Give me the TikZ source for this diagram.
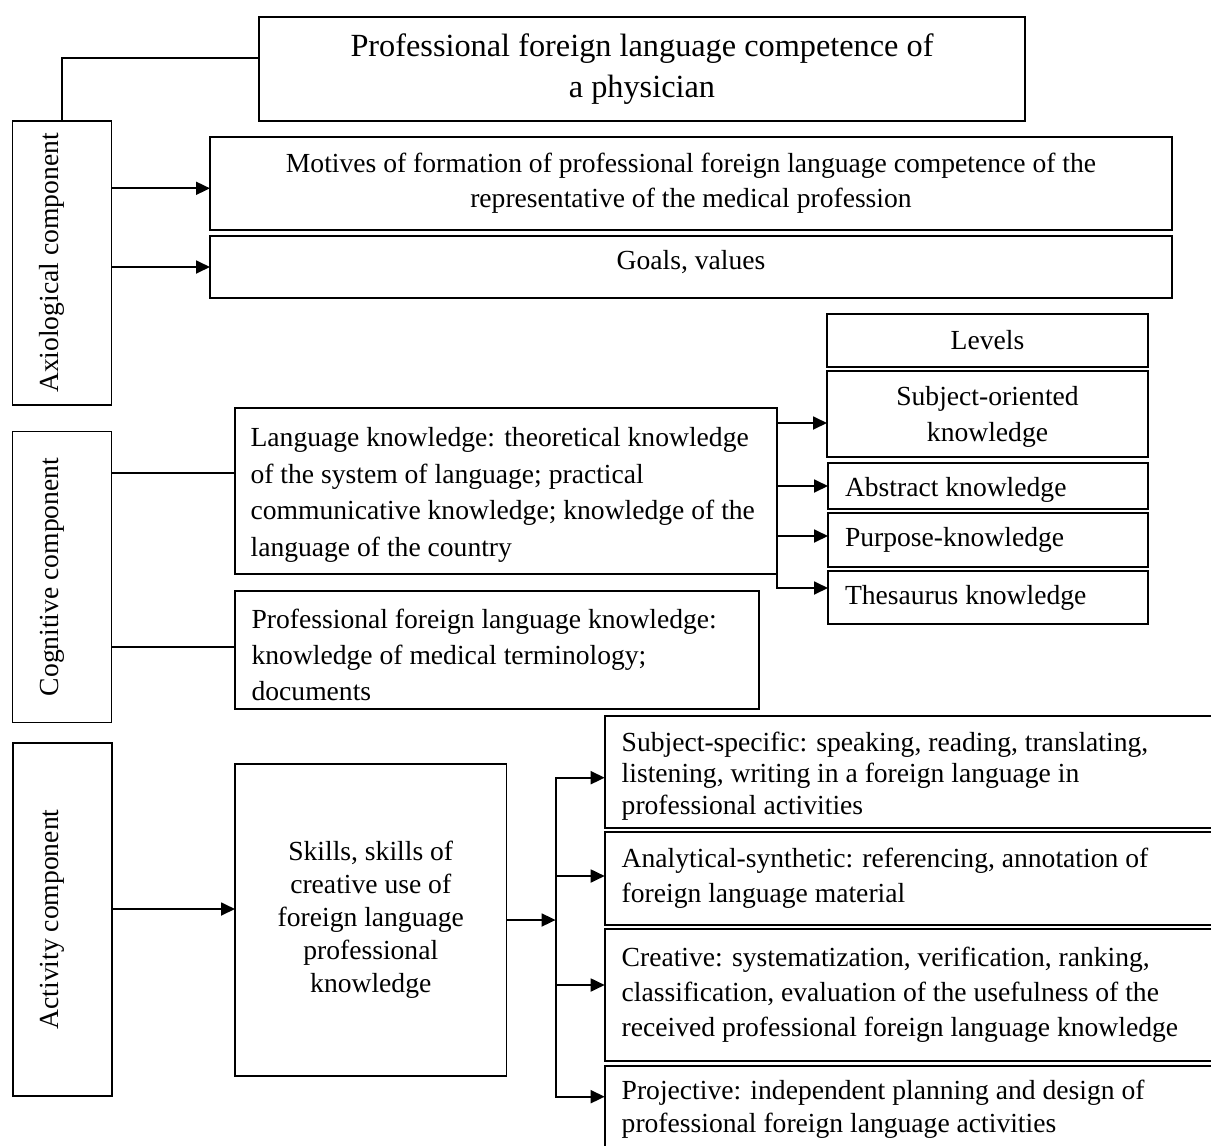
\documentclass[tikz,border=0pt]{standalone}
\usepackage{fontspec}
\setmainfont{Liberation Serif}
\usepackage{graphicx}
\usetikzlibrary{arrows.meta}
\newcommand\bodyfs[1]{\fontsize{27.6pt}{#1pt}\selectfont}
\newcommand\vstrut{\rule[-27pt]{0pt}{46pt}}
\newcommand\topst[1]{\rule{0pt}{#1pt}}
\begin{document}
\begin{tikzpicture}[x=1pt,y=-1pt,
  every node/.style={inner sep=0pt, outer sep=0pt},
  box/.style={draw, line width=1.8pt, rectangle},
  cbox/.style={box, align=center},
  lbox/.style={box, align=flush left, inner xsep=17pt, text width=#1},
  ln/.style={line width=1.8pt, line cap=rect},
  arr/.style={line width=1.8pt, -{Triangle[length=14pt,width=13pt]}}
]
\useasboundingbox (0,0) rectangle (1211,1146);
\clip (0,0) rectangle (1211,1146);

% title
\node[cbox, minimum width=766pt, minimum height=104pt, font=\fontsize{32.3pt}{41pt}\selectfont] (title) at (642,69)
  {Professional foreign language competence of\\ a physician};

% left component boxes
\node[box, minimum width=99pt, minimum height=284pt, font=\bodyfs{33}] (axio) at (62,263)
  {\rotatebox{90}{\vstrut Axiological component}};
\node[box, minimum width=99pt, minimum height=291pt, font=\bodyfs{33}] (cog) at (62,577)
  {\rotatebox{90}{\vstrut Cognitive component}};
\node[box, minimum width=99pt, minimum height=353pt, font=\bodyfs{33}] (act) at (62.5,919.5)
  {\rotatebox{90}{\vstrut Activity component}};

% axiological
\node[cbox, minimum width=962pt, minimum height=93pt, font=\bodyfs{35}] (motives) at (691,183.5)
  {Motives of formation of professional foreign language competence of the\\ representative of the medical profession};
\node[cbox, minimum width=962pt, minimum height=62pt, text height=19pt, text depth=14pt, font=\bodyfs{35}] (goals) at (691,267)
  {Goals, values};

% levels
\node[cbox, minimum width=321pt, minimum height=53pt, font=\bodyfs{35}] (levels) at (987.5,340.5) {Levels};
\node[cbox, minimum width=321pt, minimum height=86pt, font=\bodyfs{36}] (subjor) at (987.5,414) {\topst{25}Subject-oriented\\ knowledge};
\node[lbox=286pt, minimum height=46pt, font=\bodyfs{35}] (abstract) at (988,486) {\topst{27}Abstract knowledge};
\node[lbox=286pt, minimum height=54pt, font=\bodyfs{35}] (purpose) at (988,540) {Purpose-knowledge};
\node[lbox=286pt, minimum height=53pt, font=\bodyfs{35}] (thes) at (988,597.5) {Thesaurus knowledge};

% cognitive
\node[lbox=510.4pt, inner xsep=16pt, minimum height=166pt, font=\bodyfs{36.5}] (langk) at (505.8,491)
  {\topst{27}Language knowledge: theoretical knowledge\\ of the system of language; practical\\ communicative knowledge; knowledge of the\\ language of the country};
\node[lbox=490.4pt, minimum height=118pt, font=\bodyfs{36}] (profk) at (496.8,650)
  {\topst{29}Professional foreign language knowledge:\\ knowledge of medical terminology;\\ documents};

% activity
\node[cbox, minimum width=271.5pt, minimum height=312pt, font=\bodyfs{33}] (skills) at (370.75,920)
  {Skills, skills of\\ creative use of\\ foreign language\\ professional\\ knowledge};
\node[lbox=575.3pt, minimum height=112pt, font=\bodyfs{31.5}] (ss) at (909.35,772)
  {\topst{27}Subject-specific: speaking, reading, translating,\\ listening, writing in a foreign language in\\ professional activities};
\node[lbox=575.3pt, minimum height=93pt, font=\bodyfs{35}] (ana) at (909.35,878.5)
  {Analytical-synthetic: referencing, annotation of\\ foreign language material};
\node[lbox=575.3pt, minimum height=132pt, font=\bodyfs{35}] (cre) at (909.35,995)
  {Creative: systematization, verification, ranking,\\ classification, evaluation of the usefulness of the\\ received professional foreign language knowledge};
\node[lbox=575.3pt, minimum height=82pt, font=\bodyfs{33}] (proj) at (909.35,1107)
  {\topst{23}Projective: independent planning and design of\\ professional foreign language activities};

% connectors: axiological
\draw[ln] ([yshift=11.3pt]title.west) -| (axio.north);
\coordinate (m1) at ([yshift=-4.8pt]motives.west);
\draw[arr] (axio.east |- m1) -- (m1);
\draw[arr] (axio.east |- goals.west) -- (goals.west);

% connectors: cognitive
\coordinate (l1) at ([yshift=18pt]langk.west);
\coordinate (p1) at ([yshift=3.3pt]profk.west);
\draw[ln] (cog.east |- l1) -- (l1);
\draw[ln] (cog.east |- p1) -- (p1);

\coordinate (c1) at ([yshift=-9pt]subjor.west);
\coordinate (c3) at ([yshift=4pt]purpose.west);
\coordinate (c4) at ([yshift=9.5pt]thes.west);
\draw[arr] (langk.east |- c1) -- (c1);
\draw[arr] (langk.east |- c1) -- (langk.east |- c4) -- (c4);
\draw[arr] (langk.east |- abstract.west) -- (abstract.west);
\draw[arr] (langk.east |- c3) -- (c3);

% connectors: activity
\coordinate (a1) at ([yshift=11pt]skills.west);
\draw[arr] (act.east |- a1) -- (a1);
\coordinate (trk) at (555.6,920);
\draw[arr] (skills.east) -- (trk);
\coordinate (s1) at ([yshift=-5.7pt]ss.west);
\coordinate (s2) at ([yshift=2.5pt]ana.west);
\coordinate (s3) at ([yshift=10pt]cre.west);
\coordinate (s4) at ([yshift=10.3pt]proj.west);
\draw[ln] (trk |- s1) -- (trk |- s4);
\draw[arr] (trk |- s1) -- (s1);
\draw[arr] (trk |- s2) -- (s2);
\draw[arr] (trk |- s3) -- (s3);
\draw[arr] (trk |- s4) -- (s4);
\end{tikzpicture}
\end{document}
